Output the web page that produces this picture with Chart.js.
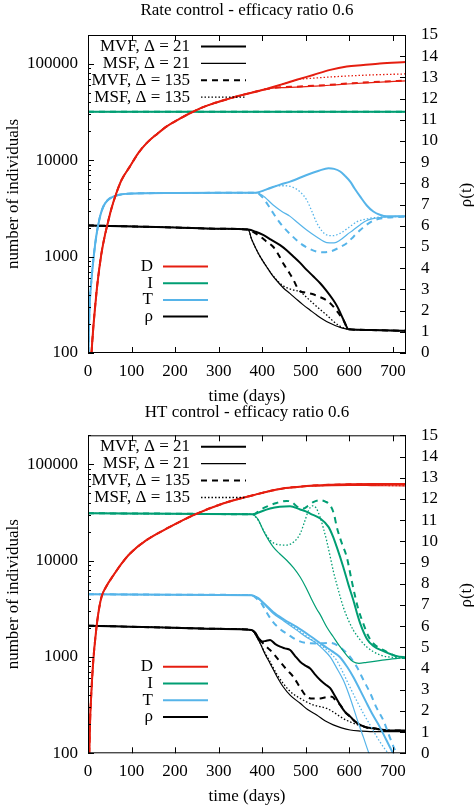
<!DOCTYPE html>
<html>
<head>
<meta charset="utf-8">
<script src="https://cdn.jsdelivr.net/npm/chart.js@4"></script>
<style>
html, body { margin: 0; padding: 0; background: #fff; }
canvas { display: block; }
</style>
</head>
<body>
<canvas id="rateChart" width="474" height="405"></canvas>
<canvas id="htChart" width="474" height="403"></canvas>
<script>
const RED = '#e51e10';
const GREEN = '#009e73';
const BLUE = '#56b4e9';
const BLACK = '#000000';
const FONT = '"Liberation Serif", "Times New Roman", serif';

const xTicks = [0, 100, 200, 300, 400, 500, 600, 700];
const yTicks = [100, 1000, 10000, 100000];
const rhoTicks = [0, 1, 2, 3, 4, 5, 6, 7, 8, 9, 10, 11, 12, 13, 14, 15];

// ---- Rate control panel ----
const rateD_pre = [[8,100],[12,180],[16,290],[20,450],[25,700],[31,1090],[38,1600],[45,2200],[54,3180],[65,4550],[77,6250],[96,8600],[115,11800],[134,15000],[160,19000],[180,22400],[210,27000],[234,30800],[260,35000],[288,39000],[320,43200],[349,47000],[380,51000],[410,55000]];
const rateD_mvf21 = [...rateD_pre, [441,60700],[479,68500],[517,77000],[556,86900],[594,94000],[632,97400],[670,101000],[730,104600]];
const rateD_msf21 = [...rateD_pre, [441,56800],[479,57600],[517,58800],[556,60200],[594,62000],[650,64200],[730,66700]];
const rateD_mvf135 = [...rateD_pre, [441,57200],[479,58200],[517,59400],[556,60800],[594,62600],[650,64800],[730,67300]];
const rateD_msf135 = [...rateD_pre, [441,60700],[479,68500],[517,71300],[556,73300],[594,75000],[650,77000],[730,78900]];

const rateI = [[0,32000],[730,32000]];

const rateT_pre = [[1,100],[2,170],[4,330],[8,580],[12,900],[16,1300],[20,1750],[24,2200],[29,2750],[35,3300],[45,3850],[58,4200],[75,4420],[100,4520],[200,4580],[300,4600],[385,4620]];
const rateT_mvf21 = [...rateT_pre, [410,5000],[441,5600],[464,6010],[502,7050],[530,7800],[552,8270],[565,8150],[579,7650],[590,6900],[602,6010],[612,5100],[625,4200],[640,3400],[655,2940],[670,2720],[686,2620],[730,2620]];
const rateT_msf21 = [...rateT_pre, [400,4350],[425,3440],[445,2950],[464,2620],[483,2220],[502,1890],[525,1600],[548,1400],[565,1390],[579,1490],[595,1700],[609,1890],[625,2150],[640,2370],[670,2550],[700,2600],[730,2620]];
const rateT_mvf135 = [...rateT_pre, [400,4150],[418,3180],[433,2500],[448,2040],[468,1650],[487,1380],[505,1230],[525,1130],[540,1110],[556,1130],[575,1230],[594,1380],[610,1620],[625,1890],[640,2150],[655,2370],[680,2520],[730,2600]];
const rateT_msf135 = [...rateT_pre, [410,5000],[433,5420],[452,5450],[471,5250],[487,4700],[502,3880],[514,2950],[525,2250],[537,1850],[548,1680],[562,1650],[579,1750],[598,2000],[617,2300],[640,2470],[660,2550],[690,2600],[730,2620]];

const rateRho_pre = [[0,6.02],[100,5.97],[200,5.92],[300,5.86],[368,5.82]];
const rateRho_tail = [[620,1.1],[650,1.08],[700,1.06],[730,1.05]];
const rateRho_mvf21 = [...rateRho_pre, [385,5.72],[402,5.57],[420,5.35],[441,5.09],[456,4.85],[472,4.54],[487,4.25],[502,3.92],[517,3.62],[533,3.29],[548,2.92],[563,2.5],[572,2.2],[579,1.9],[588,1.5],[598,1.12], ...rateRho_tail];
const rateRho_msf21 = [...rateRho_pre, [375,5.4],[387,4.86],[398,4.45],[410,4.07],[422,3.7],[433,3.42],[448,3.08],[464,2.8],[479,2.53],[494,2.27],[510,2.02],[525,1.79],[540,1.58],[556,1.4],[567,1.3],[579,1.21],[590,1.15],[598,1.12], ...rateRho_tail];
const rateRho_mvf135 = [...rateRho_pre, [380,5.7],[395,5.5],[410,5.25],[425,5.01],[437,4.65],[448,4.23],[460,3.85],[472,3.44],[480,3.1],[487,2.92],[500,2.85],[515,2.78],[530,2.66],[545,2.52],[556,2.35],[566,2.12],[576,1.85],[586,1.56],[598,1.12], ...rateRho_tail];
const rateRho_msf135 = [...rateRho_pre, [375,5.4],[387,4.86],[398,4.45],[410,4.07],[422,3.72],[435,3.4],[446,3.2],[456,3.08],[472,2.97],[487,2.89],[502,2.62],[517,2.34],[533,2.05],[548,1.79],[563,1.5],[579,1.26],[590,1.16],[598,1.12], ...rateRho_tail];

// ---- HT control panel ----
const htD_pre = [[3,100],[5,230],[8,450],[12,900],[17,1600],[23,2700],[31,4200],[42,5400],[58,7000],[77,9300],[96,11800],[134,16300],[188,22400],[241,29500],[310,39200],[379,47800],[441,55500],[480,58200]];
const htD_mvf21 = [...htD_pre, [517,60300],[560,61500],[600,62100],[650,62400],[730,62500]];
const htD_msf21 = [...htD_pre, [517,59500],[560,60200],[600,60400],[650,60200],[730,59700]];
const htD_mvf135 = [...htD_pre, [517,60100],[560,61300],[600,61900],[650,62200],[730,62300]];
const htD_msf135 = [...htD_pre, [517,59700],[560,60500],[600,60700],[650,60500],[730,60000]];

const htI_pre = [[0,31000],[200,30700],[375,30300]];
const htI_mvf21 = [...htI_pre, [385,30700],[395,32000],[418,34700],[440,36200],[464,36700],[487,34000],[500,32500],[510,30800],[533,27400],[552,22400],[562,18000],[571,13900],[586,8600],[598,5600],[609,3900],[617,2900],[625,2220],[640,1550],[655,1300],[678,1150],[709,1020],[730,990]];
const htI_msf21 = [...htI_pre, [390,27000],[402,20700],[414,16500],[425,13900],[440,11800],[456,10100],[472,8400],[487,6760],[500,5300],[513,4000],[525,3150],[533,2750],[548,2050],[563,1620],[579,1270],[594,1040],[609,890],[622,860],[640,880],[686,940],[730,990]];
const htI_mvf135 = [...htI_pre, [385,31000],[395,33500],[410,36300],[433,39700],[456,41700],[468,40500],[479,36700],[494,34700],[505,37000],[517,40500],[533,42400],[545,41000],[556,37500],[565,30000],[571,22400],[583,15000],[594,10900],[605,6300],[613,4300],[620,3200],[632,2220],[645,1600],[655,1380],[686,1130],[716,985],[730,970]];
const htI_msf135 = [...htI_pre, [390,26500],[402,21000],[418,16300],[435,14700],[456,14500],[475,16000],[487,19000],[498,26000],[506,33000],[515,37000],[524,35000],[533,28000],[540,22000],[548,16000],[556,11000],[564,7500],[571,5700],[579,4200],[586,3300],[598,2400],[609,1900],[625,1500],[640,1270],[670,1050],[700,990],[730,970]];

const htT_pre = [[0,4480],[200,4430],[375,4380]];
const htT_mvf21 = [...htT_pre, [390,4100],[400,3750],[425,2930],[450,2450],[479,2050],[510,1650],[540,1320],[560,1150],[578,1000],[594,800],[609,620],[625,450],[640,330],[655,245],[670,187],[684,140],[697,107],[710,85]];
const htT_msf21 = [...htT_pre, [390,4050],[400,3700],[425,2830],[450,2350],[479,1900],[500,1620],[525,1380],[540,1200],[556,1000],[570,780],[586,575],[598,420],[609,300],[620,210],[632,148],[645,100],[655,80]];
const htT_mvf135 = [...htT_pre, [388,4000],[400,3500],[410,2900],[425,2300],[441,1950],[460,1700],[479,1500],[500,1400],[525,1380],[556,1400],[578,1270],[598,1050],[617,790],[632,580],[648,420],[662,300],[678,220],[692,150],[705,107],[715,85]];
const htT_msf135 = [...htT_pre, [390,4080],[400,3720],[425,2900],[450,2400],[479,1950],[510,1550],[540,1270],[556,1100],[571,920],[586,680],[601,490],[617,350],[632,260],[648,195],[663,148],[676,120],[689,100],[700,85]];

const htRho_pre = [[0,6.02],[100,5.97],[200,5.92],[300,5.87],[375,5.82]];
const htRho_mvf21 = [...htRho_pre, [383,5.7],[392,5.42],[399,5.27],[408,5.3],[418,5.35],[430,5.15],[441,5.03],[452,4.95],[464,4.87],[475,4.6],[487,4.32],[498,4.15],[510,4.0],[520,3.75],[533,3.46],[545,3.25],[556,3.07],[567,2.7],[579,2.28],[590,1.95],[602,1.73],[613,1.5],[625,1.34],[640,1.22],[655,1.18],[693,1.07],[730,1.07]];
const htRho_msf21 = [...htRho_pre, [380,5.75],[387,5.5],[395,5.2],[406,4.7],[418,4.24],[433,3.65],[448,3.14],[465,2.72],[487,2.36],[505,2.05],[525,1.81],[545,1.52],[563,1.34],[582,1.2],[602,1.1],[625,1.05],[648,1.02],[730,1.02]];
const htRho_mvf135 = [...htRho_pre, [383,5.7],[395,5.35],[406,5.1],[418,4.87],[430,4.6],[441,4.32],[456,3.95],[471,3.62],[487,3.1],[502,2.67],[517,2.58],[533,2.59],[548,2.65],[560,2.67],[570,2.45],[579,2.28],[590,1.95],[602,1.73],[613,1.5],[625,1.34],[640,1.22],[655,1.18],[693,1.07],[730,1.07]];
const htRho_msf135 = [...htRho_pre, [380,5.75],[387,5.5],[395,5.2],[406,4.75],[418,4.32],[433,3.75],[448,3.3],[465,2.9],[487,2.59],[502,2.42],[517,2.28],[533,2.2],[548,2.12],[563,1.95],[579,1.73],[594,1.55],[609,1.42],[625,1.3],[648,1.18],[693,1.07],[730,1.07]];

// line styles for the four model variants
const variants = [
  { label: 'MVF, Δ = 21',  width: 2,   dash: [] },
  { label: 'MSF, Δ = 21',  width: 1.2, dash: [] },
  { label: 'MVF, Δ = 135', width: 2,   dash: [6, 5] },
  { label: 'MSF, Δ = 135', width: 1.3, dash: [1.5, 2] }
];
const quantities = [
  { label: 'D', color: RED },
  { label: 'I', color: GREEN },
  { label: 'T', color: BLUE },
  { label: 'ρ', color: BLACK }
];

function lines(color, axis, sets) {
  return sets.map((pts, i) => ({
    data: pts,
    borderColor: color,
    borderWidth: variants[i].width,
    borderDash: variants[i].dash,
    yAxisID: axis,
    pointRadius: 0,
    fill: false,
    cubicInterpolationMode: 'monotone'
  }));
}

// gnuplot-like frame, inward ticks, keys and the rotated y2 label
const gnuFrame = {
  id: 'gnuFrame',
  afterDatasetsDraw(chart) {
    const { ctx, chartArea: a, scales } = chart;
    ctx.save();
    ctx.strokeStyle = BLACK;
    ctx.lineWidth = 1;
    ctx.setLineDash([]);
    ctx.beginPath();
    yTicks.forEach(v => {
      const y = Math.round(scales.y.getPixelForValue(v)) + 0.5;
      ctx.moveTo(a.left, y); ctx.lineTo(a.left + 6, y);
      for (let m = 2; m <= 9; m++) {
        const mv = v * m;
        if (mv > scales.y.max) break;
        const ym = Math.round(scales.y.getPixelForValue(mv)) + 0.5;
        ctx.moveTo(a.left, ym); ctx.lineTo(a.left + 3, ym);
      }
    });
    rhoTicks.forEach(v => {
      const y = Math.round(scales.y2.getPixelForValue(v)) + 0.5;
      ctx.moveTo(a.right, y); ctx.lineTo(a.right - 6, y);
    });
    xTicks.forEach(v => {
      const x = Math.round(scales.x.getPixelForValue(v)) + 0.5;
      ctx.moveTo(x, a.bottom); ctx.lineTo(x, a.bottom - 6);
      ctx.moveTo(x, a.top); ctx.lineTo(x, a.top + 6);
    });
    ctx.stroke();
    ctx.strokeRect(a.left + 0.5, a.top + 0.5, a.right - a.left - 1, a.bottom - a.top - 1);
    ctx.restore();
  },
  afterDraw(chart) {
    const { ctx, chartArea: a } = chart;
    ctx.save();
    ctx.font = '17px ' + FONT;
    ctx.fillStyle = BLACK;
    ctx.textAlign = 'right';
    ctx.textBaseline = 'middle';
    variants.forEach((v, i) => {
      const y = a.top + 11.5 + i * 16.9;
      ctx.fillText(v.label, a.left + 102, y);
      ctx.strokeStyle = BLACK;
      ctx.lineWidth = v.width;
      ctx.setLineDash(v.dash);
      ctx.beginPath();
      ctx.moveTo(a.left + 113, y); ctx.lineTo(a.left + 158, y);
      ctx.stroke();
    });
    ctx.setLineDash([]);
    quantities.forEach((q, i) => {
      const y = a.top + 231.5 + i * 16.7;
      ctx.fillText(q.label, a.left + 65, y);
      ctx.strokeStyle = q.color;
      ctx.lineWidth = 2;
      ctx.beginPath();
      ctx.moveTo(a.left + 75, y); ctx.lineTo(a.left + 120, y);
      ctx.stroke();
    });
    ctx.translate(467, (a.top + a.bottom) / 2 + 1);
    ctx.rotate(-Math.PI / 2);
    ctx.textAlign = 'center';
    ctx.fillText('ρ(t)', 0, 0);
    ctx.restore();
  }
};

function makeChart(id, titleText, g, datasets) {
  const tickFont = { family: FONT, size: 17 };
  return new Chart(id, {
    type: 'line',
    data: { datasets },
    options: {
      responsive: false,
      animation: false,
      events: [],
      layout: { padding: 0 },
      plugins: {
        legend: { display: false },
        tooltip: { enabled: false },
        title: {
          display: true,
          text: titleText,
          fullSize: false,
          color: BLACK,
          font: { family: FONT, size: 17, weight: 'normal', lineHeight: 0.8 },
          padding: { top: g.titleTop, bottom: g.titleBottom }
        }
      },
      scales: {
        x: {
          type: 'linear', min: 0, max: 730,
          grid: { display: false, drawTicks: false },
          border: { display: false },
          afterBuildTicks: s => { s.ticks = xTicks.map(v => ({ value: v })); },
          afterFit: s => { s.height = g.xHeight; },
          ticks: { color: BLACK, font: tickFont, padding: g.xTickPad, maxRotation: 0, autoSkip: false, callback: v => String(v) },
          title: { display: true, text: 'time (days)', color: BLACK,
                   font: { family: FONT, size: 17, lineHeight: 0.8 }, padding: { top: 0, bottom: g.xTitleBottom } }
        },
        y: {
          type: 'logarithmic', position: 'left', min: 100, max: 200000,
          grid: { display: false, drawTicks: false },
          border: { display: false },
          afterBuildTicks: s => { s.ticks = yTicks.map(v => ({ value: v })); },
          afterFit: s => { s.width = 88; },
          ticks: { color: BLACK, font: tickFont, padding: 10, autoSkip: false, callback: v => String(v) },
          title: { display: true, text: 'number of individuals', color: BLACK,
                   font: { family: FONT, size: 17 }, padding: { top: 3, bottom: 0 } }
        },
        y2: {
          type: 'linear', position: 'right', min: 0, max: 15,
          grid: { display: false, drawTicks: false },
          border: { display: false },
          afterBuildTicks: s => { s.ticks = rhoTicks.map(v => ({ value: v })); },
          afterFit: s => { s.width = 68; },
          ticks: { color: BLACK, font: tickFont, padding: 15, autoSkip: false, callback: v => String(v) }
        }
      }
    },
    plugins: [gnuFrame]
  });
}

makeChart('rateChart', 'Rate control - efficacy ratio 0.6',
  { titleTop: 4.2, titleBottom: 17.2, xHeight: 52, xTickPad: 8.5, xTitleBottom: 1.7 },
  [
    ...lines(RED, 'y', [rateD_mvf21, rateD_msf21, rateD_mvf135, rateD_msf135]),
    ...lines(GREEN, 'y', [rateI, rateI, rateI, rateI]),
    ...lines(BLUE, 'y', [rateT_mvf21, rateT_msf21, rateT_mvf135, rateT_msf135]),
    ...lines(BLACK, 'y2', [rateRho_mvf21, rateRho_msf21, rateRho_mvf135, rateRho_msf135])
  ]);

makeChart('htChart', 'HT control - efficacy ratio 0.6',
  { titleTop: 0.7, titleBottom: 16, xHeight: 54.7, xTickPad: 8.2, xTitleBottom: 4.5 },
  [
    ...lines(RED, 'y', [htD_mvf21, htD_msf21, htD_mvf135, htD_msf135]),
    ...lines(GREEN, 'y', [htI_mvf21, htI_msf21, htI_mvf135, htI_msf135]),
    ...lines(BLUE, 'y', [htT_mvf21, htT_msf21, htT_mvf135, htT_msf135]),
    ...lines(BLACK, 'y2', [htRho_mvf21, htRho_msf21, htRho_mvf135, htRho_msf135])
  ]);
</script>
</body>
</html>
